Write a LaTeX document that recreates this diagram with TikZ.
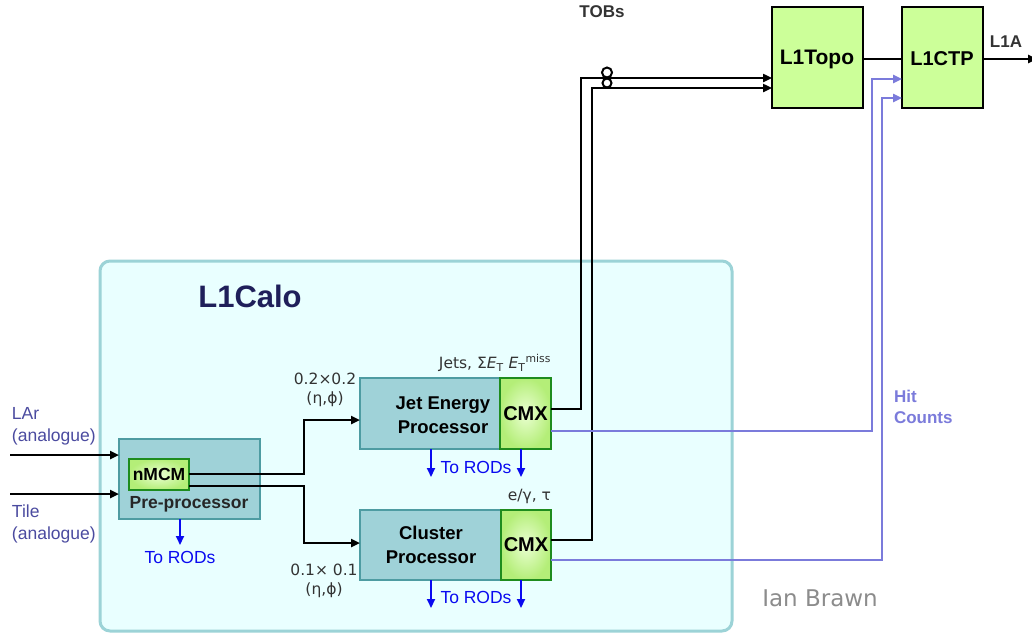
\documentclass[tikz,border=0pt]{standalone}
\usepackage{fontspec}
\setmainfont{Liberation Sans}
\newfontfamily\dvs{DejaVu Sans}
\usetikzlibrary{arrows.meta}
\definecolor{calofill}{HTML}{E9FFFF}
\definecolor{calobord}{HTML}{9CD3D7}
\definecolor{tealfill}{HTML}{9FD2D8}
\definecolor{tealedge}{HTML}{4E9CA2}
\definecolor{greenedge}{HTML}{1E8C1E}
\definecolor{cmxin}{HTML}{EAFFD2}
\definecolor{cmxout}{HTML}{B4EE78}
\definecolor{topfill}{HTML}{CCFF99}
\definecolor{navy}{HTML}{1F1F5A}
\definecolor{slate}{HTML}{4B4BA0}
\definecolor{hitc}{HTML}{7B7BDB}
\definecolor{rodblue}{HTML}{0A0AF0}
\definecolor{darkgray}{HTML}{333333}
\definecolor{signgray}{HTML}{8C8C8C}
\begin{document}
\begin{tikzpicture}[x=1pt,y=-1pt,
  every node/.style={inner sep=0pt,outer sep=0pt},
  tealbox/.style={rectangle,draw=tealedge,fill=tealfill,line width=2pt,anchor=north west},
  cmxbox/.style={rectangle,draw=greenedge,line width=2pt,inner color=cmxin,outer color=cmxout,anchor=north west,font=\bfseries\fontsize{20}{20}\selectfont},
  topbox/.style={rectangle,draw=black,fill=topfill,line width=2pt,anchor=north west},
  sig/.style={line width=2.5pt,-{Triangle[length=9pt,width=8pt]}},
  hit/.style={draw=hitc,line width=2.5pt,-{Triangle[length=9pt,width=8pt]}},
  rod/.style={draw=rodblue,line width=2pt,-{Triangle[length=9pt,width=8pt]}},
  rodtext/.style={text=rodblue,font=\fontsize{17.5}{17.5}\selectfont},
  boxtext/.style={font=\bfseries\fontsize{18.5}{24}\selectfont,align=center},
  gridtext/.style={font=\dvs\fontsize{15.5}{19}\selectfont,text=darkgray,align=center},
  intext/.style={font=\fontsize{17.5}{22}\selectfont,text=slate,align=left,anchor=west}
]
\useasboundingbox (0,0) rectangle (1032,634);
\fill[white] (0,0) rectangle (1032,634);

% L1Calo container
\node[rectangle,rounded corners=10pt,line width=3pt,draw=calobord,fill=calofill,
  minimum width=632pt,minimum height=370pt,anchor=north west] (calo) at (100,261) {};
\node[font=\bfseries\fontsize{31}{31}\selectfont,text=navy] (calotitle) at (250,296) {L1Calo};

% Pre-processor
\node[tealbox,minimum width=141pt,minimum height=80pt] (pp) at (119,439) {};
\node[cmxbox,minimum width=60pt,minimum height=31pt,font=\bfseries\fontsize{17.5}{17.5}\selectfont] (nmcm) at (129,459) {nMCM};
\node[font=\bfseries\fontsize{17.5}{17.5}\selectfont,text=black!85] (pptext) at (189,504) {Pre-processor};

% Jet Energy Processor
\node[tealbox,minimum width=140pt,minimum height=71pt] (jep) at (360,378) {};
\node[boxtext] (jeptext) at (443,415) {Jet Energy\\Processor};
\node[cmxbox,minimum width=51pt,minimum height=71pt] (jepcmx) at (500,378) {CMX};

% Cluster Processor
\node[tealbox,minimum width=141pt,minimum height=70pt] (cp) at (360,510) {};
\node[boxtext] (cptext) at (431,545) {Cluster\\Processor};
\node[cmxbox,minimum width=50pt,minimum height=70pt] (cpcmx) at (501,510) {CMX};

% L1Topo and L1CTP
\node[topbox,minimum width=91pt,minimum height=101pt] (l1topo) at (772,7) {};
\node[font=\bfseries\fontsize{21}{21}\selectfont] (l1topotext) at (817,59) {L1Topo};
\node[topbox,minimum width=81pt,minimum height=101pt] (l1ctp) at (902,7) {};
\node[font=\bfseries\fontsize{20}{20}\selectfont] (l1ctptext) at (942,59) {L1CTP};

% inputs
\coordinate (larin) at (10,455);
\coordinate (tilein) at (10,494);
\draw[sig] (larin) -- (pp.west |- larin);
\draw[sig] (tilein) -- (pp.west |- tilein);
\node[intext] (lartext) at (12,426) {LAr\\(analogue)};
\node[intext] (tiletext) at (12,524) {Tile\\(analogue)};

% nMCM outputs
\draw[sig] (nmcm.east |- 0,474) -- (304,474) -- (304,420) -- (jep.west |- 0,420);
\draw[sig] (nmcm.east |- 0,486) -- (304,486) -- (304,543) -- (cp.west |- 0,543);
\node[gridtext] (g1) at (325,390) {0.2×0.2\\(η,ϕ)};
\node[gridtext] (g2) at (324,581) {0.1× 0.1\\(η,ϕ)};

% ROD outputs
\coordinate (rodpp) at (180,545);
\draw[rod] (pp.south -| rodpp) -- (rodpp);
\node[rodtext] (rodpptext) at (180,557) {To RODs};
\coordinate (rodj1) at (431,477);
\coordinate (rodj2) at (521,477);
\draw[rod] (jep.south -| rodj1) -- (rodj1);
\draw[rod] (jepcmx.south -| rodj2) -- (rodj2);
\node[rodtext] (rodjtext) at (476,467) {To RODs};
\coordinate (rodc1) at (431,608);
\coordinate (rodc2) at (521,608);
\draw[rod] (cp.south -| rodc1) -- (rodc1);
\draw[rod] (cpcmx.south -| rodc2) -- (rodc2);
\node[rodtext] (rodctext) at (476,597) {To RODs};

% CMX labels
\node[gridtext,anchor=east] (jetslabel) at (551,363) {Jets, Σ\textit{E}\textsubscript{T} \textit{E}\textsubscript{T}\textsuperscript{miss}};
\node[gridtext,anchor=east] (eglabel) at (551,496) {e/γ, τ};

% TOBs
\draw[sig] (jepcmx.east |- 0,409) -- (581,409) -- (581,78) -- (l1topo.west |- 0,78);
\draw[sig] (cpcmx.east |- 0,540) -- (592,540) -- (592,88) -- (l1topo.west |- 0,88);
\draw[line width=2pt] (607,72.5) circle[radius=5pt];
\draw[line width=2pt] (607,83) circle[radius=4.5pt];
\node[font=\bfseries\fontsize{17}{17}\selectfont,text=darkgray] (tobs) at (602,12) {TOBs};

% Hit counts
\draw[hit] (jepcmx.east |- 0,431) -- (872,431) -- (872,79) -- (l1ctp.west |- 0,79);
\draw[hit] (cpcmx.east |- 0,560) -- (882,560) -- (882,98) -- (l1ctp.west |- 0,98);
\node[font=\bfseries\fontsize{17}{21}\selectfont,text=hitc,align=left,anchor=west] (hittext) at (894,407) {Hit\\Counts};

% L1Topo -> L1CTP -> L1A
\draw[line width=2.5pt] (l1topo.east |- 0,59) -- (l1ctp.west |- 0,59);
\coordinate (l1aout) at (1037,59);
\draw[sig] (l1ctp.east |- l1aout) -- (l1aout);
\node[font=\bfseries\fontsize{17}{17}\selectfont,text=darkgray] (l1a) at (1006,42) {L1A};

% signature
\node[font=\dvs\fontsize{23}{23}\selectfont,text=signgray] (sign) at (820,598) {Ian Brawn};
\end{tikzpicture}
\end{document}
